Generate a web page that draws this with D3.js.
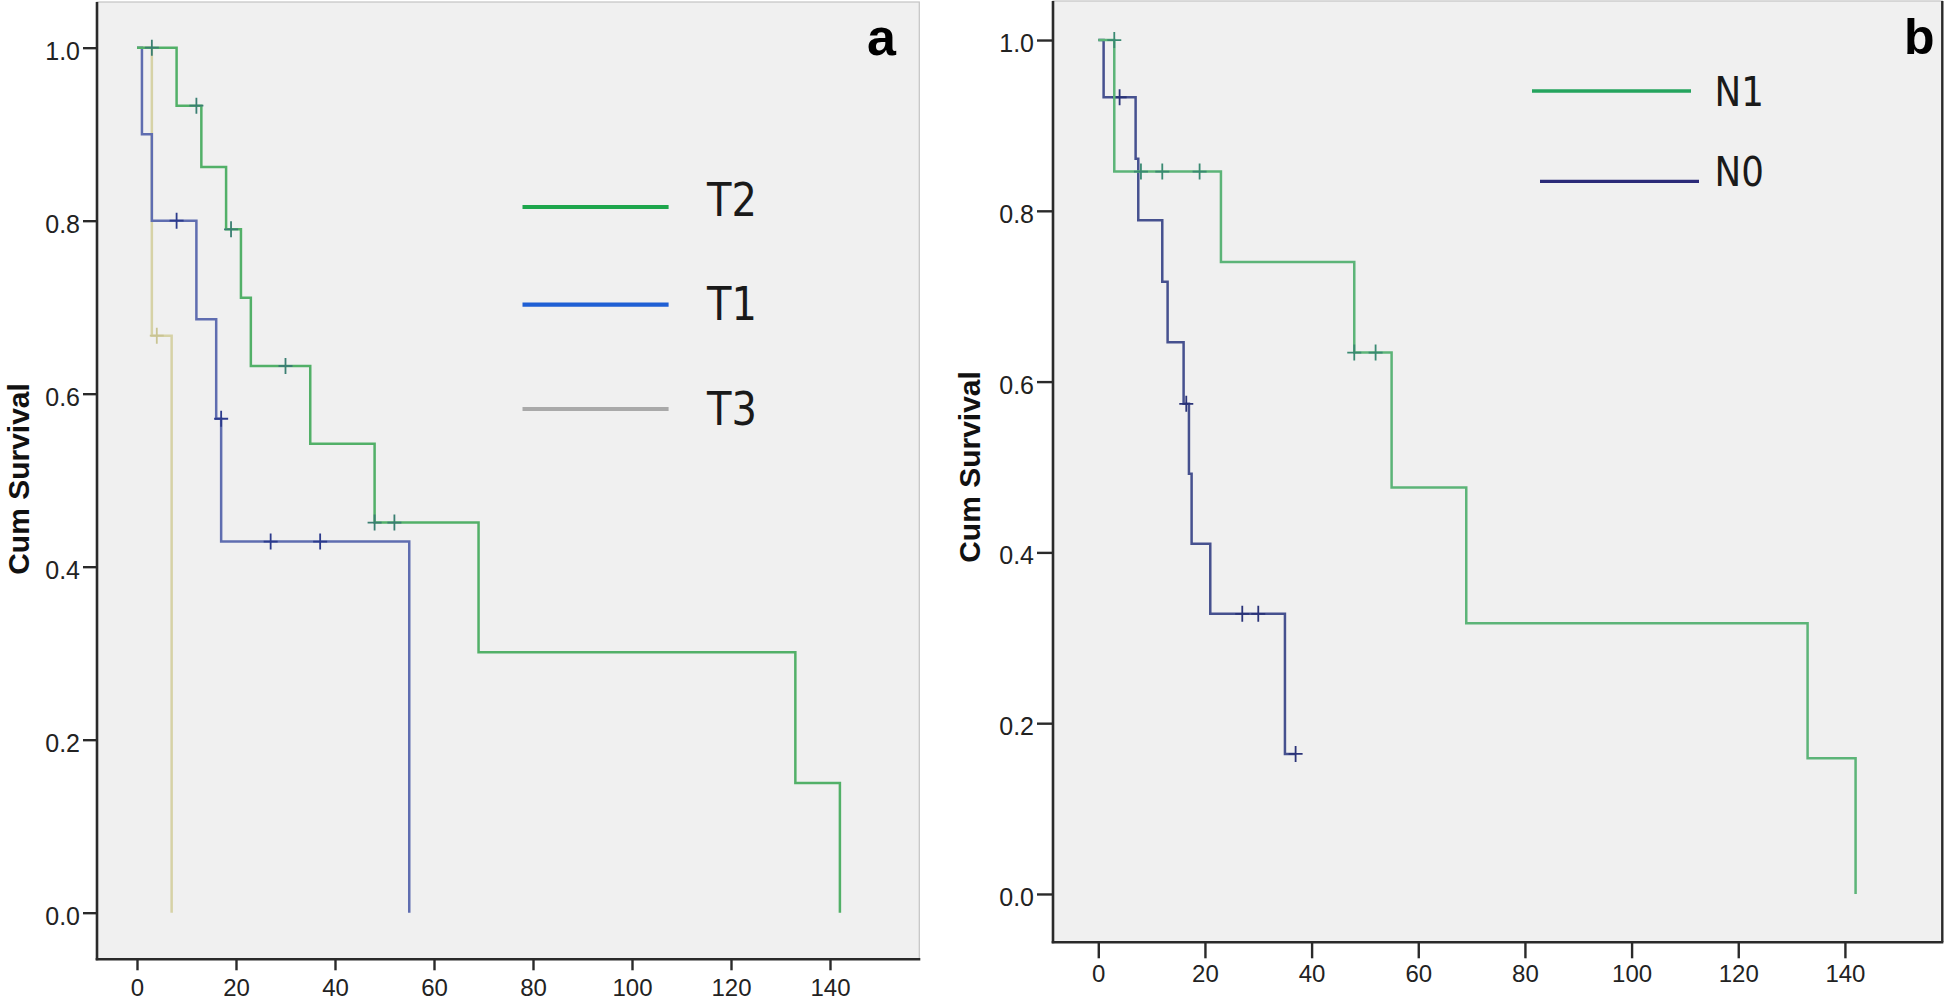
<!DOCTYPE html>
<html><head><meta charset="utf-8">
<script src="https://cdn.jsdelivr.net/npm/d3@7"></script>
<style>body{margin:0;background:#fff}svg{display:block}</style>
</head><body>
<svg id="chart" width="1946" height="1002"></svg>
<script>
// ---------- DATA ----------
const xTickValues = [0, 20, 40, 60, 80, 100, 120, 140];
const yTickValues = [0.0, 0.2, 0.4, 0.6, 0.8, 1.0];
const yAxisTitle = "Cum Survival";

// Panel a : T stage
const t2Time = [0, 8, 13, 18, 21, 23, 35, 48, 69, 133, 142];
const t2Surv = [1, 0.933, 0.862, 0.790, 0.711, 0.632, 0.542, 0.451, 0.301, 0.150, 0];
const t2CensTime = [3, 12, 19, 30, 48, 52];
const t2CensSurv = [1, 0.933, 0.790, 0.632, 0.451, 0.451];

const t1Time = [0, 1, 3, 12, 16, 17, 55];
const t1Surv = [1, 0.9, 0.8, 0.686, 0.571, 0.429, 0];
const t1CensTime = [8, 17, 27, 37];
const t1CensSurv = [0.8, 0.571, 0.429, 0.429];

const t3Time = [0, 3, 7];
const t3Surv = [1, 0.667, 0];
const t3CensTime = [4];
const t3CensSurv = [0.667];

// Panel b : N stage
const n1Time = [0, 3, 23, 48, 55, 69, 133, 142];
const n1Surv = [1, 0.846, 0.740, 0.634, 0.476, 0.317, 0.159, 0];
const n1CensTime = [3, 8, 12, 19, 48, 52];
const n1CensSurv = [1, 0.846, 0.846, 0.846, 0.634, 0.634];

const n0Time = [0, 1, 7, 7.5, 12, 13, 16, 17, 17.5, 21, 35, 37];
const n0Surv = [1, 0.933, 0.861, 0.789, 0.717, 0.646, 0.574, 0.492, 0.410, 0.328, 0.164, 0.164];
const n0CensTime = [4, 16.5, 27, 30, 37];
const n0CensSurv = [0.933, 0.574, 0.328, 0.328, 0.164];

const legendA = ["T2", "T1", "T3"];
const legendB = ["N1", "N0"];
const panelLabels = ["a", "b"];

// ---------- LAYOUT / STYLE ----------
const svg = d3.select("#chart");
const FONT = "'Liberation Sans', Arial, sans-serif";
const LEGFONT = "'DejaVu Sans', Verdana, sans-serif";

const panels = [
  {
    label: panelLabels[0], left: 97, top: 2, right: 919.3, bottom: 959.3,
    xDom: [-8.08, 158.04], yDom: [-0.0539, 1.0528],
    yTick: 14, xTick: 11, xLabelY: 37, rightDark: false,
    titleX: 29, titleY: 479,
    labelX: 867, labelY: 55.4, labelSize: 52,
    series: [
      {t: t3Time, s: t3Surv, ct: t3CensTime, cs: t3CensSurv, color: "#d6d2a6", mark: "#c9c493"},
      {t: t1Time, s: t1Surv, ct: t1CensTime, cs: t1CensSurv, color: "#5f6db0", mark: "#2c3b8c"},
      {t: t2Time, s: t2Surv, ct: t2CensTime, cs: t2CensSurv, color: "#52b068", mark: "#3a7f72"}
    ],
    legend: {names: legendA, colors: ["#1da64c", "#1f5fd4", "#a9a9a9"],
             x1: 522.5, x2: 668.6, ys: [207, 304.6, 409], width: 4.2,
             tx: 707, tys: [216, 319.6, 425], size: 46}
  },
  {
    label: panelLabels[1], left: 1053, top: 1, right: 1942.3, bottom: 942.3,
    xDom: [-8.49, 158.26], yDom: [-0.0566, 1.0457],
    yTick: 16, xTick: 16, xLabelY: 40, rightDark: true,
    titleX: 980, titleY: 467,
    labelX: 1904, labelY: 53.6, labelSize: 50,
    series: [
      {t: n0Time, s: n0Surv, ct: n0CensTime, cs: n0CensSurv, color: "#46518f", mark: "#2a3378"},
      {t: n1Time, s: n1Surv, ct: n1CensTime, cs: n1CensSurv, color: "#5cb478", mark: "#3a8a72"}
    ],
    legend: {names: legendB, colors: ["#25a45e", "#2b2a78"],
             x1s: [1532, 1540], x2s: [1691, 1699], ys: [91, 181.4], width: 3.4,
             tx: 1714.5, tys: [106.4, 186.4], size: 41}
  }
];

function drawPanel(p) {
  const x = d3.scaleLinear().domain(p.xDom).range([p.left, p.right]);
  const y = d3.scaleLinear().domain(p.yDom).range([p.bottom, p.top]);
  const g = svg.append("g");

  // plot background
  g.append("rect").attr("x", p.left).attr("y", p.top)
    .attr("width", p.right - p.left).attr("height", p.bottom - p.top)
    .attr("fill", "#f0f0f0").attr("stroke", "#c4c4c4").attr("stroke-width", 1.2);
  if (p.rightDark) {
    g.append("line").attr("x1", p.right).attr("x2", p.right)
      .attr("y1", p.top).attr("y2", p.bottom)
      .attr("stroke", "#2a2a2a").attr("stroke-width", 2.4);
  }

  // y axis
  const yAx = g.append("g").attr("transform", `translate(${p.left},0)`)
    .call(d3.axisLeft(y).tickValues(yTickValues).tickFormat(d3.format(".1f"))
      .tickSize(p.yTick).tickSizeOuter(0).tickPadding(3));
  yAx.select(".domain").remove();
  yAx.selectAll(".tick line").attr("stroke", "#2a2a2a").attr("stroke-width", 2.4);
  yAx.selectAll(".tick text").attr("font-family", FONT).attr("font-size", 25)
    .attr("fill", "#222").attr("dy", "0.46em");
  g.append("line").attr("x1", p.left).attr("x2", p.left).attr("y1", p.top).attr("y2", p.bottom + 1)
    .attr("stroke", "#2a2a2a").attr("stroke-width", 2.6);

  // x axis
  const xAx = g.append("g").attr("transform", `translate(0,${p.bottom})`)
    .call(d3.axisBottom(x).tickValues(xTickValues).tickFormat(d3.format("d"))
      .tickSize(p.xTick).tickSizeOuter(0));
  xAx.select(".domain").remove();
  xAx.selectAll(".tick line").attr("stroke", "#2a2a2a").attr("stroke-width", 2.4);
  xAx.selectAll(".tick text").attr("font-family", FONT).attr("font-size", 24)
    .attr("fill", "#222").attr("y", p.xLabelY).attr("dy", 0);
  g.append("line").attr("x1", p.left - 1.3).attr("x2", p.right + 1).attr("y1", p.bottom).attr("y2", p.bottom)
    .attr("stroke", "#2a2a2a").attr("stroke-width", 2.6);

  // y axis title
  g.append("text").attr("transform", `translate(${p.titleX},${p.titleY}) rotate(-90)`)
    .attr("text-anchor", "middle").attr("font-family", FONT).attr("font-weight", "bold")
    .attr("font-size", 30).attr("fill", "#111").text(yAxisTitle);

  // curves
  const line = d3.line().x(d => x(d[0])).y(d => y(d[1])).curve(d3.curveStepAfter);
  p.series.forEach(s => {
    const pts = s.t.map((t, i) => [t, s.s[i]]);
    g.append("path").attr("d", line(pts)).attr("fill", "none")
      .attr("stroke", s.color).attr("stroke-width", 2.5);
    s.ct.forEach((t, i) => {
      const cx = x(t), cy = y(s.cs[i]);
      g.append("path").attr("d", `M${cx - 7},${cy}H${cx + 7}M${cx},${cy - 8}V${cy + 8}`)
        .attr("stroke", s.mark).attr("stroke-width", 1.8).attr("fill", "none");
    });
  });

  // legend
  const L = p.legend;
  L.names.forEach((n, i) => {
    const x1 = L.x1s ? L.x1s[i] : L.x1, x2 = L.x2s ? L.x2s[i] : L.x2;
    g.append("line").attr("x1", x1).attr("x2", x2).attr("y1", L.ys[i]).attr("y2", L.ys[i])
      .attr("stroke", L.colors[i]).attr("stroke-width", L.width);
    g.append("text").attr("transform", `translate(${L.tx},${L.tys[i]}) scale(0.87,1)`)
      .attr("font-family", LEGFONT).attr("font-size", L.size).attr("fill", "#1a1a1a").text(n);
  });

  // panel label
  g.append("text").attr("x", p.labelX).attr("y", p.labelY)
    .attr("font-family", FONT).attr("font-weight", "bold").attr("font-size", p.labelSize)
    .attr("fill", "#000").text(p.label);
}

panels.forEach(drawPanel);
</script>
</body></html>
